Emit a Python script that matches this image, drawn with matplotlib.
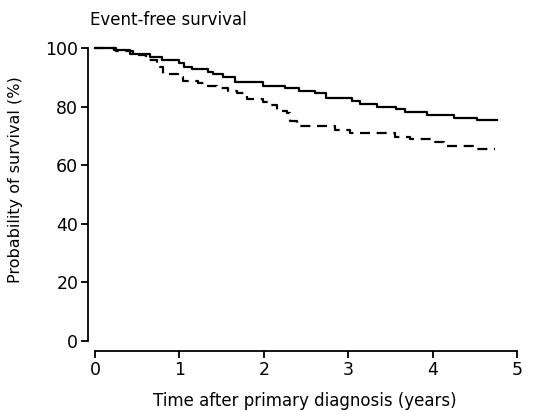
import matplotlib.pyplot as plt

# event-free survival, two groups (step curves)
solid_t = [0, 0.22, 0.41, 0.65, 0.79, 0.99, 1.05, 1.15, 1.34, 1.40, 1.52, 1.66,
           1.99, 2.25, 2.41, 2.61, 2.74, 3.04, 3.14, 3.34, 3.57, 3.67, 3.93,
           4.25, 4.52, 4.76]
solid_s = [100, 99.3, 98.0, 96.8, 95.7, 94.8, 93.6, 92.7, 91.9, 91.0, 89.9, 88.3,
           87.1, 86.2, 85.3, 84.5, 82.8, 81.9, 80.9, 80.0, 79.1, 78.2, 77.0,
           76.2, 75.4, 75.4]

dashed_t = [0, 0.25, 0.45, 0.60, 0.73, 0.77, 0.81, 0.98, 1.04, 1.22, 1.30, 1.44,
            1.58, 1.68, 1.80, 1.99, 2.07, 2.15, 2.27, 2.31, 2.39, 2.84, 3.02,
            3.55, 3.73, 4.03, 4.13, 4.48, 4.74]
dashed_s = [100, 99.0, 97.5, 96.0, 95.0, 93.5, 91.0, 89.9, 88.8, 88.0, 87.1, 86.2,
            85.3, 84.5, 82.6, 81.7, 80.5, 78.5, 77.7, 74.9, 73.5, 72.0, 70.9,
            69.7, 68.9, 67.8, 66.7, 65.4, 65.4]

x_ticks = [0, 1, 2, 3, 4, 5]
y_ticks = [0, 20, 40, 60, 80, 100]

fig = plt.figure(figsize=(5.37, 4.12), dpi=100)
ax = fig.add_axes([0.164, 0.148, 0.799, 0.755])

ax.step(solid_t, solid_s, where="post", color="black", lw=1.6)
ax.step(dashed_t, dashed_s, where="post", color="black", lw=1.6,
        linestyle=(0, (4.5, 3)))

ax.set_xlim(-0.083, 5.0)
ax.set_ylim(-3.4, 102.7)
ax.set_xticks(x_ticks)
ax.set_yticks(y_ticks)

for side in ("top", "right"):
    ax.spines[side].set_visible(False)
ax.spines["left"].set_bounds(0, 100)
ax.spines["bottom"].set_bounds(0, 5)
for side in ("left", "bottom"):
    ax.spines[side].set_linewidth(1.3)
ax.tick_params(length=5, width=1.3, labelsize=12.5, pad=2)

ax.set_xlabel("Time after primary diagnosis (years)", fontsize=12, va="center")
ax.xaxis.set_label_coords(0.506, -0.161)
ax.set_ylabel("Probability of survival (%)", fontsize=11.5, va="center")
ax.yaxis.set_label_coords(-0.168, 0.55)
fig.text(0.168, 0.951, "Event-free survival", fontsize=12, ha="left", va="center")

fig.savefig("out.png", dpi=100)
plt.close(fig)
